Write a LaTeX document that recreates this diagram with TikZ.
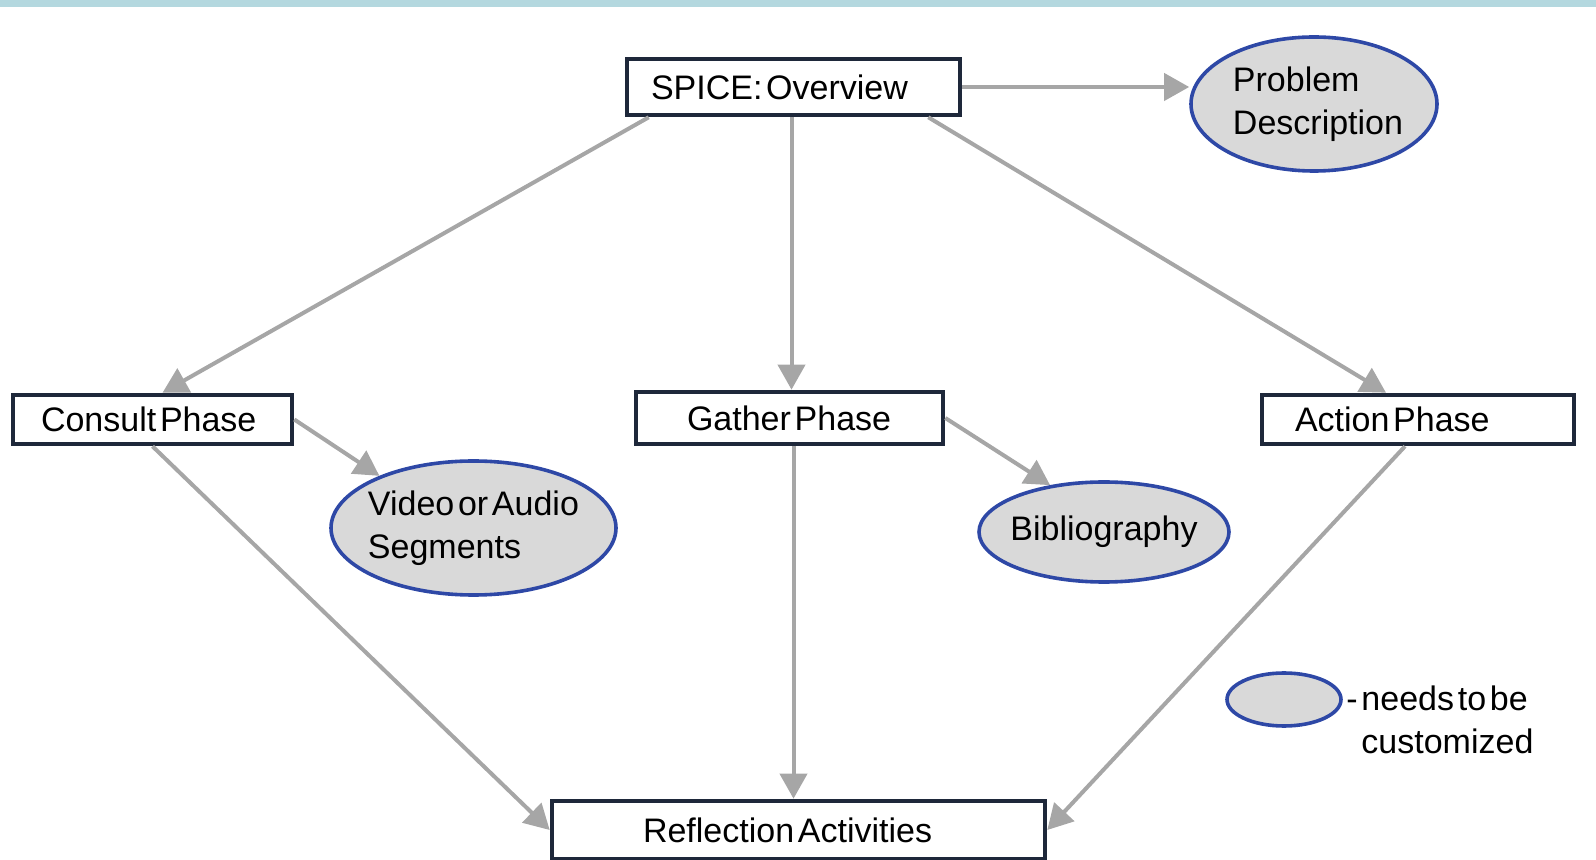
\documentclass[tikz,border=0pt]{standalone}
\usepackage{fontspec}
\setmainfont{Liberation Sans}[WordSpace=0.35]
\usetikzlibrary{arrows.meta,shapes.geometric}
\definecolor{boxline}{HTML}{1E283A}
\definecolor{ellline}{HTML}{2E48A6}
\definecolor{ellfill}{HTML}{D9D9D9}
\definecolor{arrgray}{HTML}{A6A6A6}
\definecolor{topbar}{HTML}{B4D8DF}
\newcommand{\wsp}{\hspace{0.11em}}
\frenchspacing
\begin{document}
\begin{tikzpicture}[x=0.5pt,y=-0.5pt,
  every node/.style={font=\fontsize{17}{21.5}\selectfont\frenchspacing},
  phasebox/.style={draw=boxline, line width=2.3pt, fill=white, align=flush left, inner ysep=0pt},
  custom/.style={ellipse, draw=ellline, line width=1.8pt, fill=ellfill, inner sep=0pt},
  etext/.style={align=left, inner sep=0pt},
  arr/.style={draw=arrgray, line width=2pt, -{Triangle[length=12.5pt,width=13.5pt]}}]
\useasboundingbox (0,0) rectangle (1596,860);
\fill[topbar] (0,0) rectangle (1596,7);

% boxes
\node[phasebox, minimum height=28pt, text width=142.5pt, inner xsep=12pt] (spice) at (793.5,87) {SPICE:\wsp Overview};
\node[phasebox, minimum height=24.5pt, text width=111.5pt, inner xsep=14pt] (consult) at (152.5,419.5) {Consult\wsp Phase};
\node[phasebox, minimum height=26pt, text width=102.5pt, inner xsep=25.5pt] (gather) at (789.5,418) {Gather\wsp Phase};
\node[phasebox, minimum height=24.5pt, text width=123pt, inner xsep=16.5pt] (action) at (1418,419.5) {Action\wsp Phase};
\node[phasebox, minimum height=29pt, text width=155.5pt, inner xsep=45.5pt] (refl) at (798.5,830) {Reflection\wsp Activities};

% ellipses
\node[custom, minimum width=123pt, minimum height=67pt,
  label={[etext, xshift=2pt]center:Problem\\Description}] (prob) at (1314,104) {};
\node[custom, minimum width=142.5pt, minimum height=67pt,
  label={[etext]center:Video\wsp or\wsp Audio\\Segments}] (video) at (473.5,528) {};
\node[custom, minimum width=125pt, minimum height=50pt,
  label={[etext]center:Bibliography}] (bib) at (1104,532) {};

% legend
\node[custom, minimum width=57pt, minimum height=26.5pt] (legend) at (1284,699.5) {};
\node[anchor=west, align=left, inner sep=0pt] (legtext) at (1346,719.5) {-\wsp needs\wsp to\wsp be\\\hphantom{-\wsp}customized};

% connectors
\draw[arr] (spice.east) -- (spice.east -| prob.west);
\draw[arr] ([xshift=12pt]spice.south west) -- ([xshift=5pt]consult.north);
\draw[arr] ([xshift=-1pt]spice.south) -- ([xshift=-1pt]spice.south |- gather.north);
\draw[arr] ([xshift=-17pt]spice.south east) -- ([xshift=-16pt]action.north);
\draw[arr] (consult.east) -- (video.151);
\draw[arr] (gather.east) -- (bib.139);
\draw[arr] (consult.south) -- (refl.west);
\draw[arr] ([xshift=2pt]gather.south) -- ([xshift=2pt]gather.south |- refl.north);
\draw[arr] ([xshift=-6.5pt]action.south) -- (refl.east);
\end{tikzpicture}
\end{document}
